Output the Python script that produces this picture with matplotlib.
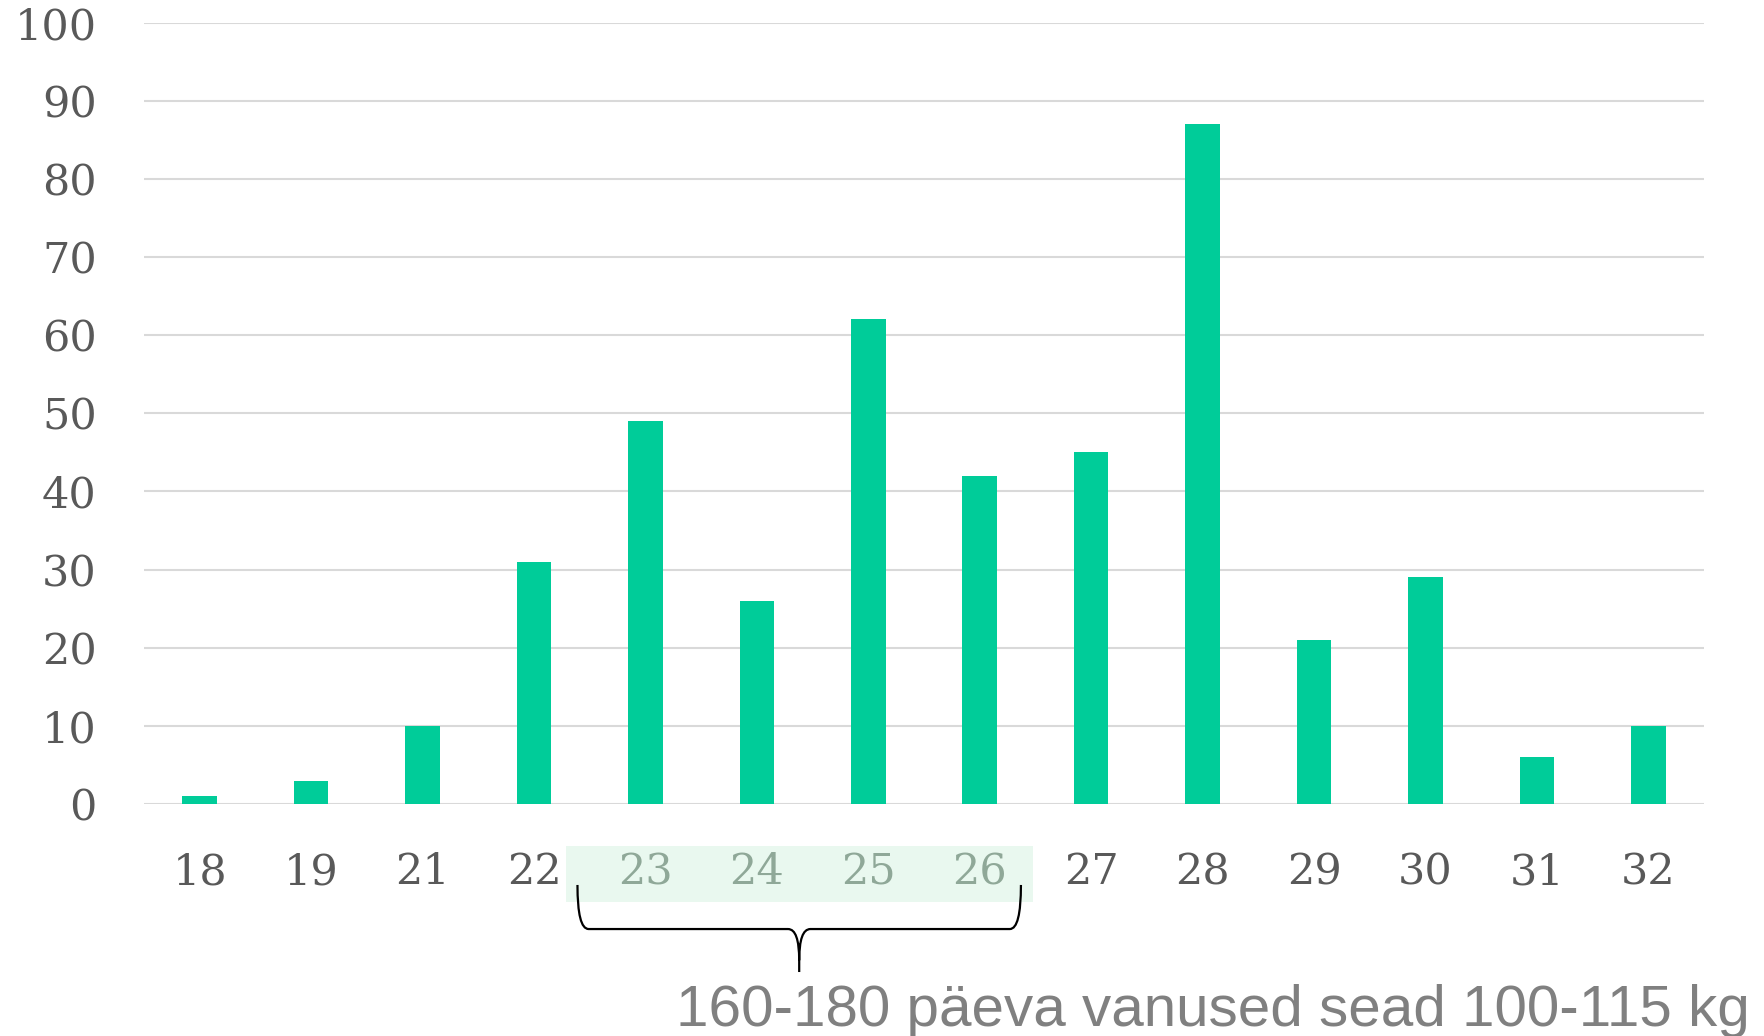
import matplotlib
matplotlib.use("Agg")
import matplotlib.pyplot as plt
from matplotlib.path import Path
from matplotlib.patches import PathPatch, Rectangle
import matplotlib.transforms as mtransforms

categories = ["18", "19", "21", "22", "23", "24", "25", "26", "27", "28", "29", "30", "31", "32"]
values = [1, 3, 10, 31, 49, 26, 62, 42, 45, 87, 21, 29, 6, 10]
highlight = ["23", "24", "25", "26"]
y_ticks = [0, 10, 20, 30, 40, 50, 60, 70, 80, 90, 100]
note = "160-180 päeva vanused sead 100-115 kg"

bar_color = "#00cc99"
grid_color = "#d9d9d9"
tick_color = "#595959"
hl_text_color = "#8fa898"
band_color = "#e9f8ef"

fig = plt.figure(figsize=(17.64, 10.36), dpi=100)
ax = fig.add_axes([144/1764, 232/1036, 1560/1764, 781.5/1036])

x = list(range(len(categories)))
ax.bar(x, values, width=0.31, color=bar_color, zorder=3)
ax.set_xlim(-0.5, len(categories) - 0.5)
ax.set_ylim(0, 100)
ax.set_yticks(y_ticks)
ax.set_xticks(x)
ax.set_xticklabels(categories)
ax.yaxis.grid(True, color=grid_color, linewidth=1.5, zorder=0)
ax.set_axisbelow(True)
for s in ax.spines.values():
    s.set_visible(False)
ax.tick_params(axis="both", length=0, colors=tick_color, labelsize=31)
ax.tick_params(axis="y", pad=34)
ax.tick_params(axis="x", pad=34)
for lbl in ax.get_xticklabels() + ax.get_yticklabels():
    lbl.set_fontfamily("DejaVu Serif")
    if lbl.get_text() in highlight:
        lbl.set_color(hl_text_color)

trans = mtransforms.blended_transform_factory(ax.transData, ax.transAxes)
i0 = categories.index(highlight[0])
i1 = categories.index(highlight[-1])

# highlight band behind labels
band = Rectangle((i0 - 0.71, -0.125), (i1 + 0.48) - (i0 - 0.71), 0.071,
                 transform=trans, facecolor=band_color, edgecolor="none",
                 clip_on=False, zorder=0)
ax.add_patch(band)

# curly brace
x0, x1 = i0 - 0.61, i1 + 0.37
xc = (x0 + x1) / 2
yt, ym, yb = -0.1036, -0.16, -0.215
dx = 0.1
dy = 0.02
verts = [
    (x0, yt), (x0, ym), (x0 + dx, ym),
    (xc - dx, ym), (xc, ym), (xc, ym - dy * 2),
    (xc, yb),
    (xc, ym - dy * 2), (xc, ym), (xc + dx, ym),
    (x1 - dx, ym), (x1, ym), (x1, yt),
]
codes = [Path.MOVETO, Path.CURVE3, Path.CURVE3,
         Path.LINETO, Path.CURVE3, Path.CURVE3,
         Path.LINETO,
         Path.MOVETO, Path.CURVE3, Path.CURVE3,
         Path.LINETO, Path.CURVE3, Path.CURVE3]
brace = PathPatch(Path(verts, codes), transform=trans, facecolor="none",
                  edgecolor="black", linewidth=1.6, clip_on=False)
ax.add_patch(brace)

fig.text(676/1764, 10/1036, note, fontsize=42, color="#808080",
         fontfamily="Liberation Sans", ha="left", va="baseline")

fig.savefig("out.png", dpi=100)
